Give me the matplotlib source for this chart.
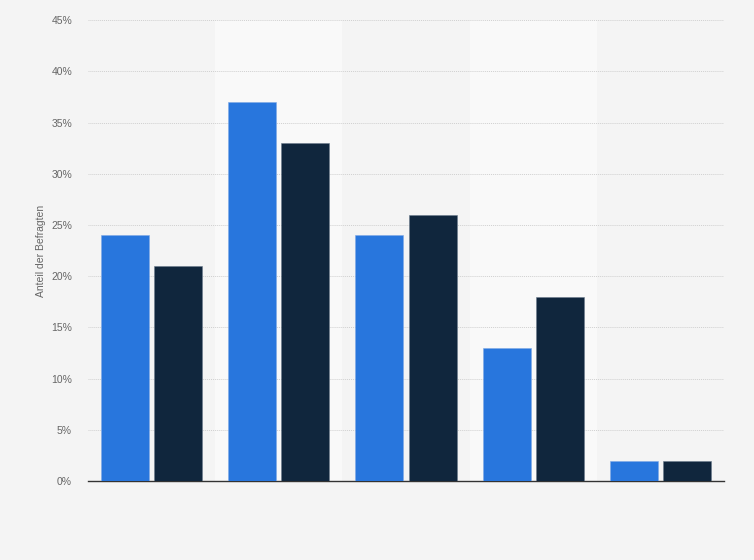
import matplotlib
matplotlib.use('Agg')
import matplotlib.pyplot as plt
import numpy as np
from matplotlib.ticker import FuncFormatter

plt.rcParams['font.family'] = ['Liberation Sans', 'DejaVu Sans']

# values (percent)
groups = ['1', '2', '3', '4', '5']
series_a = [24, 37, 24, 13, 2]
series_b = [21, 33, 26, 18, 2]
yticks = [0, 5, 10, 15, 20, 25, 30, 35, 40, 45]

fig = plt.figure(figsize=(7.54, 5.6), dpi=100)
fig.patch.set_facecolor('#f4f4f4')
ax = fig.add_axes([0.1167, 0.141, 0.8435, 0.823])
ax.set_facecolor('#f4f4f4')

x = np.arange(len(groups))
# alternating lighter columns
for i in x:
    if i % 2 == 1:
        ax.axvspan(i - 0.5, i + 0.5, color='#f9f9f9', zorder=0, lw=0)

w = 0.378
off = 0.209
ax.bar(x - off, series_a, w, color='#2876dd', edgecolor='#7fa9e6', linewidth=0.4, zorder=3)
ax.bar(x + off, series_b, w, color='#10263d', edgecolor='#6b7b8c', linewidth=0.4, zorder=3)

ax.set_xlim(-0.5, len(groups) - 0.5)
ax.set_ylim(0, 45)
ax.set_yticks(yticks)
ax.yaxis.set_major_formatter(FuncFormatter(lambda v, p: f'{v:.0f}%'))
ax.set_xticks([])
ax.tick_params(axis='y', length=0, labelsize=7.5, labelcolor='#666666', pad=11.5)
ax.grid(axis='y', color='#d0d0d0', linestyle=(0, (1, 1)), linewidth=0.7, zorder=1)
for s in ['top', 'right', 'left']:
    ax.spines[s].set_visible(False)
ax.spines['bottom'].set_color('#333333')
ax.spines['bottom'].set_linewidth(1.0)
ax.set_ylabel('Anteil der Befragten', fontsize=7.5, color='#666666', labelpad=4)

fig.savefig('out.png', dpi=100, facecolor=fig.get_facecolor())
